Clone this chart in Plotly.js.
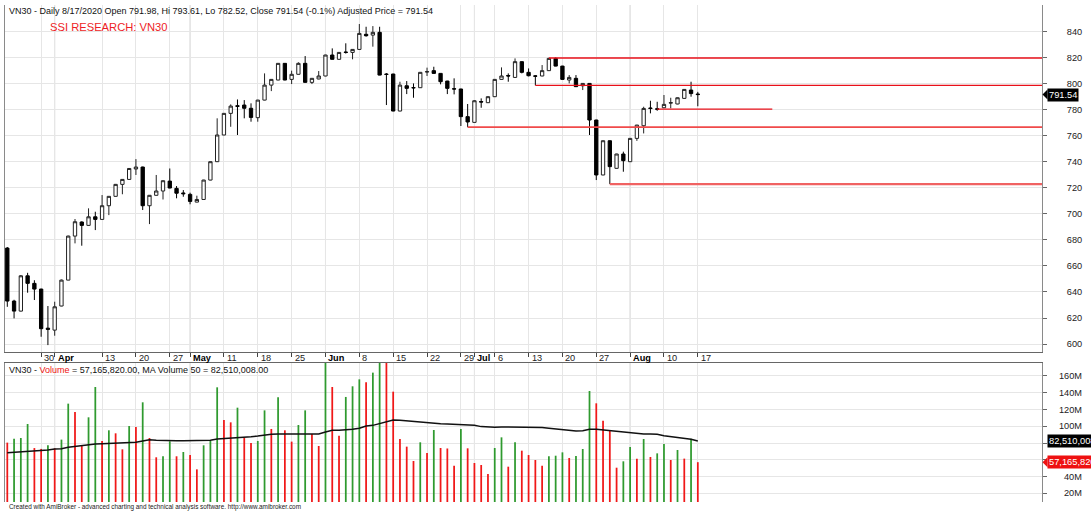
<!DOCTYPE html>
<html><head><meta charset="utf-8">
<script src="https://cdn.plot.ly/plotly-3.0.1.min.js"></script>
<style>html,body{margin:0;padding:0;background:#fff;} #chart{width:1091px;height:515px;}</style>
</head><body><div id="chart"></div>
<script>
// ---------------- DATA ----------------
const dates = [
 '03/23','03/24','03/25','03/26','03/27','03/30','03/31',
 '04/01','04/03','04/06','04/07','04/08','04/09','04/10','04/13','04/14','04/15','04/16','04/17','04/20','04/21','04/22','04/23','04/24','04/27','04/28','04/29',
 '05/04','05/05','05/06','05/07','05/08','05/11','05/12','05/13','05/14','05/15','05/18','05/19','05/20','05/21','05/22','05/25','05/26','05/27','05/28','05/29',
 '06/01','06/02','06/03','06/04','06/05','06/08','06/09','06/10','06/11','06/12','06/15','06/16','06/17','06/18','06/19','06/22','06/23','06/24','06/25','06/26','06/29','06/30',
 '07/01','07/02','07/03','07/06','07/07','07/08','07/09','07/10','07/13','07/14','07/15','07/16','07/17','07/20','07/21','07/22','07/23','07/24','07/27','07/28','07/29','07/30','07/31',
 '08/03','08/04','08/05','08/06','08/07','08/10','08/11','08/12','08/13','08/14','08/17'];

const openP = [673.7,633.0,625.3,652.4,646.6,642.2,612.2,610.7,629.2,649.1,
 682.9,693.7,691.1,697.7,695.7,706.2,713.4,722.6,726.4,734.4,
 735.9,706.2,714.2,717.5,725.1,719.5,716.0,714.9,709.0,711.0,
 725.9,740.0,760.5,777.1,783.0,783.5,781.0,773.8,787.3,798.8,
 802.7,815.5,803.2,807.1,815.5,800.9,803.5,805.8,821.9,818.6,
 824.2,823.9,826.2,837.8,837.2,839.3,807.3,807.3,778.9,798.3,
 796.9,796.8,808.9,809.9,807.8,801.9,796.0,795.8,774.6,770.2,
 786.2,785.3,789.9,803.2,806.2,804.7,816.8,808.6,805.9,805.8,
 809.9,819.3,813.4,802.7,804.0,798.3,800.1,772.0,729.8,756.1,
 734.9,745.9,740.0,757.9,767.6,781.2,780.6,781.4,785.0,784.3,
 788.6,795.0,791.98];
const highP = [674.5,634.0,653.0,654.7,649.0,642.5,629.2,632.5,649.5,683.2,
 696.0,694.2,704.2,701.6,714.4,713.6,722.9,726.6,735.0,742.0,
 736.2,714.4,729.8,725.6,734.8,721.3,718.2,716.2,713.9,726.1,
 740.2,773.3,777.3,784.0,787.8,787.3,784.8,787.5,807.8,803.4,
 815.7,815.7,809.9,816.3,821.1,804.2,809.6,822.1,827.0,824.1,
 830.9,826.4,845.7,843.6,844.1,843.6,808.0,807.5,801.4,801.9,
 800.1,808.8,812.2,812.9,808.0,802.1,804.0,796.0,784.3,787.3,
 788.6,790.1,803.4,812.4,807.8,819.3,817.0,811.6,806.5,814.2,
 819.8,820.0,813.6,806.5,806.5,800.3,800.3,772.2,756.3,756.3,
 746.1,747.7,758.1,768.3,782.2,786.8,786.0,791.2,789.1,789.3,
 795.7,801.4,793.61];
const lowP = [628.6,619.7,625.0,639.4,633.8,605.6,599.2,606.4,629.0,649.0,
 677.3,675.5,690.8,687.5,695.5,699.0,713.2,715.0,726.2,729.8,
 702.9,692.1,714.0,711.0,719.6,711.9,713.1,707.3,708.8,710.8,
 725.7,739.8,760.3,766.8,760.5,773.3,770.7,770.7,787.1,794.2,
 802.5,802.5,799.6,806.9,800.7,799.6,803.3,805.6,818.4,818.4,
 823.0,818.6,826.0,836.0,828.3,806.3,783.5,778.7,778.7,791.9,
 789.1,796.6,805.8,807.6,799.4,791.9,791.7,767.4,766.5,770.0,
 781.4,785.1,789.7,803.0,801.4,804.5,807.8,805.5,798.6,805.6,
 809.7,813.2,803.0,800.1,797.4,795.0,760.5,725.9,729.6,722.8,
 734.7,732.3,739.8,756.0,761.7,777.1,779.1,781.2,781.0,784.1,
 788.4,789.9,782.52];
const closeP = [633.0,625.3,652.4,646.6,642.2,611.8,611.3,628.6,649.1,682.9,
 693.9,691.1,697.7,695.7,706.2,713.4,722.6,726.4,734.8,735.9,
 706.2,714.2,717.5,725.4,719.8,715.8,715.4,709.5,711.0,725.9,
 740.0,760.5,777.1,782.7,782.5,781.0,774.0,787.3,798.8,803.2,
 815.5,802.7,807.1,815.5,800.9,804.0,805.8,821.9,818.6,823.9,
 823.9,826.2,838.5,836.7,839.3,806.5,807.0,778.9,798.8,796.3,
 796.7,808.6,809.1,807.8,801.4,796.3,795.8,774.6,770.5,786.8,
 785.8,789.9,803.2,805.8,805.8,816.8,808.6,806.0,805.6,809.9,
 819.3,813.4,803.2,804.7,797.6,800.1,772.0,729.8,756.1,736.2,
 745.9,740.8,757.9,768.1,780.9,780.9,780.3,784.0,785.3,789.1,
 795.5,792.3,791.54];

// volume, millions of shares
const volumeM = [80.5,85.2,86.0,102.7,74.0,73.0,77.3,73.7,84.1,127.0,
 117.1,77.3,110.7,146.9,82.5,95.2,91.6,72.5,100.3,99.2,
 128.6,86.0,63.0,64.2,82.1,64.2,69.3,65.7,48.6,77.3,
 82.5,146.5,107.5,104.7,122.2,86.4,80.1,82.5,119.0,96.8,
 134.6,95.2,81.7,101.5,119.0,90.8,76.5,185.0,146.9,88.8,
 135.0,147.7,156.0,152.5,164.0,195.0,185.0,141.3,84.8,75.7,
 58.6,80.9,68.1,95.6,74.1,73.5,53.0,96.8,73.7,56.2,
 53.8,43.1,74.1,86.8,51.8,80.9,70.9,65.7,59.8,53.0,
 64.2,64.9,68.9,62.2,64.6,72.9,142.1,127.4,106.7,95.6,
 50.6,58.2,75.3,61.4,84.8,63.4,67.7,78.9,59.8,71.7,
 61.4,85.2,57.16582];
// 50-day MA of volume, millions
const maVolumeM = [68.5,68.9,69.7,70.1,70.5,70.9,71.7,72.9,73.3,74.9,
 76.1,76.5,77.7,78.9,79.3,79.7,79.7,79.7,80.1,80.9,
 82.5,84.0,83.2,82.8,82.8,82.8,82.8,82.8,82.8,82.8,
 83.2,84.8,85.2,86.0,86.8,87.2,87.6,88.4,89.6,90.4,
 90.8,90.8,90.8,90.8,90.8,90.8,90.8,93.2,95.2,95.2,
 95.6,96.4,97.6,100.4,101.1,103.5,105.9,107.5,107.1,106.3,
 105.9,105.5,104.3,103.5,103.1,102.7,102.3,102.3,101.9,101.1,
 99.6,98.8,98.8,99.2,99.2,99.2,99.2,99.2,98.8,98.4,
 97.6,96.8,96.0,94.8,94.4,94.8,96.4,96.4,95.6,94.8,
 93.6,92.8,92.4,91.6,90.8,90.8,90.4,88.8,87.6,86.8,
 86.0,84.4,82.510008];

const tickDates  = ['03/30','04/01','04/13','04/20','04/27','05/04','05/11','05/18','05/25','06/01','06/08','06/15','06/22','06/29','07/01','07/06','07/13','07/20','07/27','08/03','08/10','08/17'];
const tickLabels = ['30','Apr','13','20','27','May','11','18','25','Jun','8','15','22','29','Jul','6','13','20','27','Aug','10','17'];
const monthLabels = ['Apr','May','Jun','Jul','Aug'];

const priceTicks = [600,620,640,660,680,700,720,740,760,780,800,820,840];
const volumeTicksM = [20,40,60,80,100,120,140,160];

// support / resistance levels drawn on the chart
const levelValues = [819.6, 798.6, 780.3, 766.6, 722.8];
const levelStartDates = ['07/16','07/14','08/07','06/30','07/29'];
const levelEndBar = [null, null, 113, null, null]; // null = to right edge

const headerText = 'VN30 - Daily 8/17/2020 Open 791.98, Hi 793.61, Lo 782.52, Close 791.54 (-0.1%) Adjusted Price = 791.54';
const titleText = 'SSI RESEARCH: VN30';
const volHeaderText = 'VN30 - <span style="color:#ee1111">Volume</span> = 57,165,820.00, MA Volume 50 = 82,510,008.00';
const footerText = 'Created with AmiBroker - advanced charting and technical analysis software. http://www.amibroker.com';

// ---------------- LAYOUT HELPERS ----------------
const W = 1091, H = 515, ML = 5, MR = 49;
const PW = W - ML - MR;
const px2x = p => (p - ML) / PW;
const px2y = p => 1 - p / H;
const FONT = 'Liberation Sans, Arial, sans-serif';

const idx = dates.map((d, i) => i);
const xRange = [-0.34, 152.84];
const tickIdx = tickDates.map(d => dates.indexOf(d));
const vol = volumeM.map(v => v * 1e6);
const maVol = maVolumeM.map(v => v * 1e6);
const volColors = vol.map((v, i) => (i > 0 && v > vol[i - 1]) ? '#2f9a2f' : '#f01818');

const priceRange = [593.9, 860.3];
const volRange = [9.66e6, 175.5e6];

const traces = [
  {
    type: 'candlestick', x: idx, open: openP, high: highP, low: lowP, close: closeP,
    xaxis: 'x', yaxis: 'y', whiskerwidth: 0,
    increasing: { line: { color: '#222', width: 1 }, fillcolor: '#ffffff' },
    decreasing: { line: { color: '#000', width: 1 }, fillcolor: '#000000' },
    hoverinfo: 'skip', showlegend: false
  },
  {
    type: 'bar', x: idx, y: vol, xaxis: 'x2', yaxis: 'y2', width: 0.26,
    marker: { color: volColors, line: { width: 0 } }, hoverinfo: 'skip', showlegend: false
  },
  {
    type: 'scatter', mode: 'lines', x: idx, y: maVol, xaxis: 'x2', yaxis: 'y2',
    line: { color: '#111', width: 1.5 }, hoverinfo: 'skip', showlegend: false
  }
];

const shapes = [];
// month gridlines (darker)
tickLabels.forEach((lab, k) => {
  if (monthLabels.includes(lab)) {
    ['y domain', 'y2 domain'].forEach(yr => shapes.push({
      type: 'line', xref: 'x', yref: yr, x0: tickIdx[k], x1: tickIdx[k], y0: 0, y1: 1,
      line: { color: '#cccccc', width: 1 }, layer: 'below'
    }));
  }
});
// level lines
const levelStyles = [
  { color: '#e8101a', width: 1.4 }, { color: '#e8101a', width: 1.4 }, { color: '#e8101a', width: 1.3 },
  { color: '#f04a4a', width: 1.8 }, { color: '#f06262', width: 2.2 }];
levelValues.forEach((v, k) => {
  shapes.push({
    type: 'line', xref: 'x', yref: 'y',
    x0: dates.indexOf(levelStartDates[k]), x1: levelEndBar[k] === null ? xRange[1] : levelEndBar[k],
    y0: v, y1: v, line: levelStyles[k], layer: 'above'
  });
});
// pointer triangles for value labels
const lastClose = closeP[closeP.length - 1];
const lastVol = vol[vol.length - 1];
const lastMa = maVol[maVol.length - 1];
const tri = (yv, d, yref, color) => ({
  type: 'path', xref: 'paper', yref: yref,
  path: `M ${px2x(1042.5)},${yv} L ${px2x(1047.5)},${yv + d} L ${px2x(1047.5)},${yv - d} Z`,
  fillcolor: color, line: { width: 0 }, layer: 'above'
});
shapes.push(tri(lastClose, 5 / 1.3025, 'y', '#000'));
shapes.push(tri(lastVol, 5 * 1.1932e6, 'y2', '#ee1111'));

const annotations = [
  { text: headerText, xref: 'paper', yref: 'paper', x: px2x(7), y: px2y(10.5), xanchor: 'left', yanchor: 'middle',
    showarrow: false, font: { family: FONT, size: 9.0, color: '#111' } },
  { text: titleText, xref: 'paper', yref: 'paper', x: px2x(48), y: px2y(27.5), xanchor: 'left', yanchor: 'middle',
    showarrow: false, font: { family: FONT, size: 11.2, color: '#ee1c25' } },
  { text: volHeaderText, xref: 'paper', yref: 'paper', x: px2x(7), y: px2y(369.5), xanchor: 'left', yanchor: 'middle',
    showarrow: false, font: { family: FONT, size: 9.0, color: '#111' } },
  { text: footerText, xref: 'paper', yref: 'paper', x: px2x(7), y: px2y(507), xanchor: 'left', yanchor: 'middle',
    showarrow: false, font: { family: FONT, size: 6.4, color: '#222' } }
];
// volume axis labels, right-aligned like the reference
volumeTicksM.forEach(v => annotations.push({
  text: v + 'M', xref: 'paper', yref: 'y2', x: px2x(1084), y: v * 1e6, xanchor: 'right', yanchor: 'middle',
  showarrow: false, font: { family: FONT, size: 9.2, color: '#222' }
}));
// date labels
tickLabels.forEach((lab, k) => {
  const isMonth = monthLabels.includes(lab);
  annotations.push({
    text: isMonth ? '<b>' + lab + '</b>' : lab, xref: 'x', yref: 'paper', x: tickIdx[k], xshift: 1,
    y: px2y(358), xanchor: 'left', yanchor: 'middle', showarrow: false,
    font: { family: FONT, size: 9.2, color: isMonth ? '#000' : '#222' }
  });
});
// last-value boxes on the right axis (drawn last, on top)
annotations.push(
  { text: lastClose.toFixed(2), xref: 'paper', yref: 'y', x: px2x(1047), y: lastClose, xanchor: 'left', yanchor: 'middle',
    showarrow: false, bgcolor: '#000', borderpad: 1, font: { family: FONT, size: 9.3, color: '#fff' } },
  { text: lastMa.toLocaleString('en-US', { minimumFractionDigits: 2, maximumFractionDigits: 2 }),
    xref: 'paper', yref: 'y2', x: px2x(1047), y: lastMa, xanchor: 'left', yanchor: 'middle',
    showarrow: false, bgcolor: '#000', borderpad: 1, font: { family: FONT, size: 9.3, color: '#fff' } },
  { text: lastVol.toLocaleString('en-US', { minimumFractionDigits: 2, maximumFractionDigits: 2 }),
    xref: 'paper', yref: 'y2', x: px2x(1047), y: lastVol, xanchor: 'left', yanchor: 'middle',
    showarrow: false, bgcolor: '#ee1111', borderpad: 1, font: { family: FONT, size: 9.3, color: '#fff' } }
);

const gridCol = '#e6e6e6';
const layout = {
  width: W, height: H, margin: { l: ML, r: MR, t: 0, b: 0, pad: 0 },
  paper_bgcolor: '#fff', plot_bgcolor: '#fff', showlegend: false, hovermode: false,
  font: { family: FONT, size: 9.2, color: '#222' },
  xaxis: {
    domain: [0, 1], anchor: 'y', range: xRange, rangeslider: { visible: false },
    tickmode: 'array', tickvals: tickIdx, ticktext: tickLabels, showticklabels: false,
    ticks: 'outside', ticklen: 4, tickcolor: '#444', tickwidth: 1,
    showgrid: true, gridcolor: gridCol, gridwidth: 1, zeroline: false,
    showline: true, linecolor: '#666', linewidth: 1, fixedrange: true
  },
  xaxis2: {
    domain: [0, 1], anchor: 'y2', matches: 'x', range: xRange, side: 'top',
    tickmode: 'array', tickvals: tickIdx, showticklabels: false, ticks: '',
    showgrid: true, gridcolor: gridCol, gridwidth: 1, zeroline: false,
    showline: true, linecolor: '#666', linewidth: 1, fixedrange: true
  },
  yaxis: {
    domain: [px2y(352), px2y(5)], anchor: 'x', range: priceRange, side: 'right',
    tickmode: 'array', tickvals: priceTicks, ticktext: priceTicks.map(String),
    ticks: 'outside', ticklen: 4, tickcolor: '#666', ticklabelstandoff: 18,
    tickfont: { family: FONT, size: 9.2, color: '#222' },
    showgrid: true, gridcolor: gridCol, zeroline: false,
    showline: true, mirror: true, linecolor: '#8a8a8a', linewidth: 1, fixedrange: true
  },
  yaxis2: {
    domain: [px2y(502), px2y(363)], anchor: 'x2', range: volRange, side: 'right',
    tickmode: 'array', tickvals: volumeTicksM.map(v => v * 1e6), showticklabels: false,
    ticks: 'outside', ticklen: 4, tickcolor: '#666',
    showgrid: true, gridcolor: gridCol, zeroline: false,
    showline: true, mirror: true, linecolor: '#8a8a8a', linewidth: 1, fixedrange: true
  },
  boxgap: 0.3,
  shapes: shapes,
  annotations: annotations
};

Plotly.newPlot('chart', traces, layout, { staticPlot: true, displayModeBar: false });
</script>
</body></html>
